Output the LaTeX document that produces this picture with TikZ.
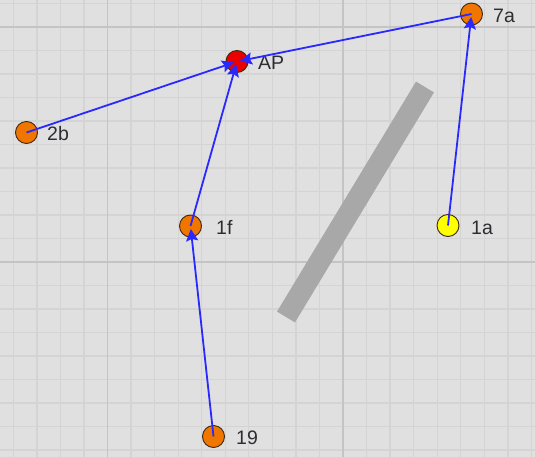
\documentclass[tikz,border=0pt]{standalone}
\usepackage{fontspec}
\setmainfont{Liberation Sans}
\usetikzlibrary{arrows.meta}
\definecolor{bgc}{RGB}{224,224,224}
\definecolor{minorc}{RGB}{212,212,212}
\definecolor{majorc}{RGB}{196,196,196}
\definecolor{barc}{RGB}{168,168,168}
\definecolor{orangec}{RGB}{240,118,0}
\definecolor{redc}{RGB}{235,0,0}
\definecolor{yellowc}{RGB}{255,255,0}
\definecolor{edgec}{RGB}{60,40,20}
\definecolor{linkc}{RGB}{40,40,255}
\definecolor{txtc}{RGB}{45,45,50}
\tikzset{
  station/.style={circle, draw=edgec, line width=0.9pt, minimum size=22pt, inner sep=0pt},
  orangest/.style={station, fill=orangec},
  redst/.style={station, fill=redc},
  yellowst/.style={station, fill=yellowc},
  lbl/.style={anchor=west, inner sep=0pt, text=txtc, font=\fontsize{19.5}{22}\selectfont},
  link/.style={draw=linkc, line width=1.8pt, shorten >=3pt, -{Stealth[length=12pt,width=12pt,inset=2pt]}},
  minorline/.style={draw=minorc, line width=1.3pt},
  majorline/.style={draw=majorc, line width=1.8pt},
  wall/.style={draw=barc, line width=21pt, line cap=butt}
}
\begin{document}
\begin{tikzpicture}[x=1pt,y=-1pt]
\useasboundingbox (0,0) rectangle (535,457);
\fill[bgc] (0,0) rectangle (535,457);
% minor grid
\foreach \k in {-4,...,18} {
  \draw[minorline] ({107.5+\k*23.55},0) -- ({107.5+\k*23.55},457);
}
\foreach \k in {-1,...,18} {
  \draw[minorline] (0,{27+\k*23.5}) -- (535,{27+\k*23.5});
}
% major grid
\draw[majorline] (107.5,0) -- (107.5,457);
\draw[majorline] (343,0) -- (343,457);
\draw[majorline] (0,27) -- (535,27);
\draw[majorline] (0,262) -- (535,262);
% wall
\coordinate (w1) at (286,317);
\coordinate (w2) at (425,87);
\draw[wall] (w1) -- (w2);
% stations
\node[redst] (AP) at (237,61.5) {};
\node[orangest] (s7a) at (471.5,14) {};
\node[orangest] (s2b) at (26.5,132.5) {};
\node[orangest] (s1f) at (190.5,226) {};
\node[yellowst] (s1a) at (448,225.5) {};
\node[orangest] (s19) at (213.5,436.5) {};
% labels
\node[lbl] (lAP) at (258,63) {AP};
\node[lbl] (l7a) at (493,16) {7a};
\node[lbl] (l2b) at (47,134) {2b};
\node[lbl] (l1f) at (216,227.5) {1f};
\node[lbl] (l1a) at (471,227.5) {1a};
\node[lbl] (l19) at (236,437.5) {19};
% links
\draw[link] (s2b.center) -- (AP.center);
\draw[link] (s7a.center) -- (AP.center);
\draw[link] (s1f.center) -- (AP.center);
\draw[link] (s1a.center) -- (s7a.center);
\draw[link] (s19.center) -- (s1f.center);
\end{tikzpicture}
\end{document}
